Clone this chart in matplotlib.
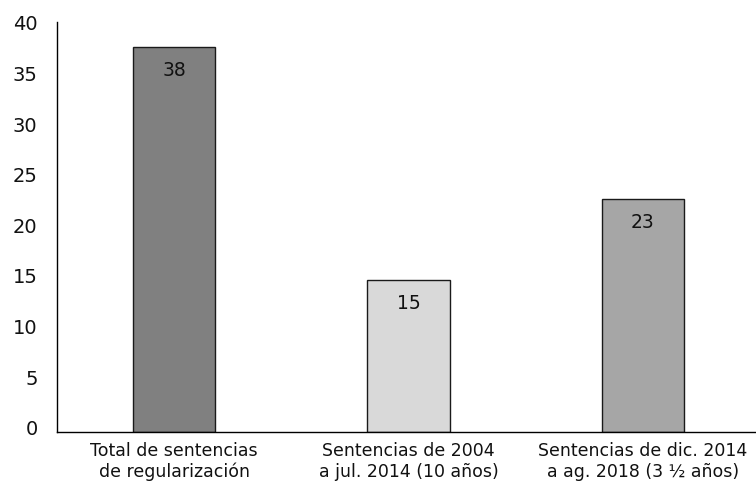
import matplotlib
matplotlib.use("Agg")
import matplotlib.pyplot as plt
from matplotlib.transforms import ScaledTranslation

categories = ["Total de sentencias\nde regularización",
              "Sentencias de 2004\na jul. 2014 (10 años)",
              "Sentencias de dic. 2014\na ag. 2018 (3 ½ años)"]
values = [38, 15, 23]
colors = ["#808080", "#d9d9d9", "#a6a6a6"]
yticks = [0, 5, 10, 15, 20, 25, 30, 35, 40]

plt.rcParams["font.family"] = ["DejaVu Sans"]

fig = plt.figure(figsize=(7.56, 4.83), dpi=100)
ax = fig.add_axes([57 / 756, 1 - 432 / 483, 703 / 756, 405 / 483])

x = list(range(len(values)))
ax.bar(x, values, width=0.35, color=colors, edgecolor="#1a1a1a", linewidth=1)

for xi, v in zip(x, values):
    ax.annotate(str(v), (xi, v), xytext=(0, -17), textcoords="offset points",
                ha="center", va="center", fontsize=13.5, color="#111111")

ax.set_xlim(-0.5, 2.5)
ax.set_ylim(0, 40)
ax.set_yticks(yticks)
ax.set_yticklabels([str(t) for t in yticks], fontsize=14, color="#111111")
ax.set_xticks(x)
ax.set_xticklabels(categories, fontsize=12.5, linespacing=1.2, color="#111111")
ax.tick_params(axis="y", length=0, pad=14)
ax.tick_params(axis="x", length=0, pad=7)
shift_up = ScaledTranslation(0, 3 / 72, fig.dpi_scale_trans)
for lbl in ax.get_yticklabels():
    lbl.set_transform(lbl.get_transform() + shift_up)

for s in ["top", "right"]:
    ax.spines[s].set_visible(False)
ax.spines["left"].set_linewidth(1)
ax.spines["bottom"].set_linewidth(1)
ax.spines["left"].set_bounds(0, 40.5)

fig.savefig("out.png", dpi=100)
